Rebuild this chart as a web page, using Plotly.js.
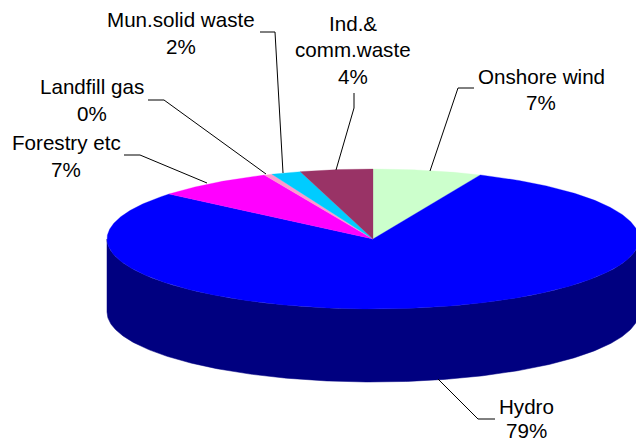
<!DOCTYPE html>
<html>
<head>
<meta charset="utf-8">
<script src="https://cdn.plot.ly/plotly-3.0.1.min.js"></script>
<style>html,body{margin:0;padding:0;background:#fff}</style>
</head>
<body>
<div id="chart" style="width:636px;height:443px"></div>
<script>
// Data, clockwise from 12 o'clock
const categories = ['Onshore wind', 'Hydro', 'Forestry etc', 'Landfill gas', 'Mun.solid waste', 'Ind.& comm.waste'];
const shares = [6.6, 79.4, 7.2, 0.49, 1.8, 4.4];
const colors = ['#CCFFCC', '#0000FF', '#FF00FF', '#FF99CC', '#00CCFF', '#993366'];
const sideColors = ['#66807F', '#000080', '#800080', '#804C66', '#006680', '#4C1933'];

// Label text rows, with centre position in pixels
const labelLines = [
  [['Onshore wind', 541, 76]],
  [['Hydro', 526, 406]],
  [['Forestry etc', 66, 142]],
  [['Landfill gas', 92, 86]],
  [['Mun.solid waste', 181, 19]],
  [['Ind.&', 353, 23], ['comm.waste', 353, 50]]
];
const pctRows = [[541, 103], [526, 430], [66, 169], [92, 114], [181, 47], [353, 77]];
const leaders = [
  [[474, 88], [458, 88], [430, 171]],
  [[495, 419], [478, 419], [438, 379]],
  [[124, 155], [140, 155], [207, 183]],
  [[148, 100], [164, 100], [266, 174]],
  [[260, 32], [275, 32], [283, 173]],
  [[354, 93], [354, 108], [336, 170]]
];

// Pie geometry
const W = 636, H = 443, CX = 373, CY = 239, RX = 266;
const TILT = 70 / RX, DEPTH = 73 / RX;

const total = shares.reduce((a, b) => a + b, 0);
const point = deg => {
  const t = deg * Math.PI / 180;
  return [Math.sin(t), Math.cos(t) * TILT];
};
const arc = (from, to) => {
  const pts = [];
  const n = Math.max(2, Math.ceil((to - from) / 0.5));
  for (let i = 0; i <= n; i++) pts.push(point(from + (to - from) * i / n));
  return pts;
};

const sides = [], tops = [];
let start = 0;
shares.forEach((v, i) => {
  const end = start + v / total * 360;
  const a = Math.max(start, 90), b = Math.min(end, 270);
  if (b > a) {
    const rim = arc(a, b);
    const low = rim.slice().reverse().map(p => [p[0], p[1] - DEPTH]);
    const all = rim.concat(low, [rim[0]]);
    sides.push({
      type: 'scatter', mode: 'lines', fill: 'toself', fillcolor: sideColors[i],
      line: {width: 0.5, color: sideColors[i]},
      x: all.map(p => p[0]), y: all.map(p => p[1]),
      hoverinfo: 'skip', showlegend: false
    });
  }
  const pts = [[0, 0]].concat(arc(start, end), [[0, 0]]);
  tops.push({
    type: 'scatter', mode: 'lines', fill: 'toself', fillcolor: colors[i],
    line: {width: 0.3, color: colors[i]},
    x: pts.map(p => p[0]), y: pts.map(p => p[1]),
    name: categories[i], hoverinfo: 'name', showlegend: false
  });
  start = end;
});

const font = {family: 'Liberation Sans, Arial, sans-serif', size: 20.6, color: '#000'};
const note = (text, x, y) => ({
  text, x: x / W, y: 1 - y / H, xref: 'paper', yref: 'paper',
  xanchor: 'center', yanchor: 'middle', showarrow: false, font,
  borderpad: 0, borderwidth: 0
});
const annotations = [];
labelLines.forEach((rows, i) => {
  rows.forEach(r => annotations.push(note(r[0], r[1], r[2])));
  annotations.push(note(Math.round(shares[i] / total * 100) + '%', pctRows[i][0], pctRows[i][1]));
});

const shapes = [];
leaders.forEach(l => {
  for (let i = 0; i < l.length - 1; i++) {
    shapes.push({
      type: 'line', xref: 'paper', yref: 'paper',
      x0: l[i][0] / W, y0: 1 - l[i][1] / H, x1: l[i + 1][0] / W, y1: 1 - l[i + 1][1] / H,
      line: {color: '#000', width: 1}
    });
  }
});

const hidden = {visible: false, fixedrange: true};
Plotly.newPlot('chart', sides.concat(tops), {
  width: W, height: H,
  margin: {l: 0, r: 0, t: 0, b: 0},
  paper_bgcolor: '#fff', plot_bgcolor: '#fff',
  xaxis: Object.assign({range: [-CX / RX, (W - CX) / RX]}, hidden),
  yaxis: Object.assign({range: [(CY - H) / RX, CY / RX]}, hidden),
  annotations, shapes, showlegend: false
}, {displayModeBar: false, staticPlot: true});
</script>
</body>
</html>
